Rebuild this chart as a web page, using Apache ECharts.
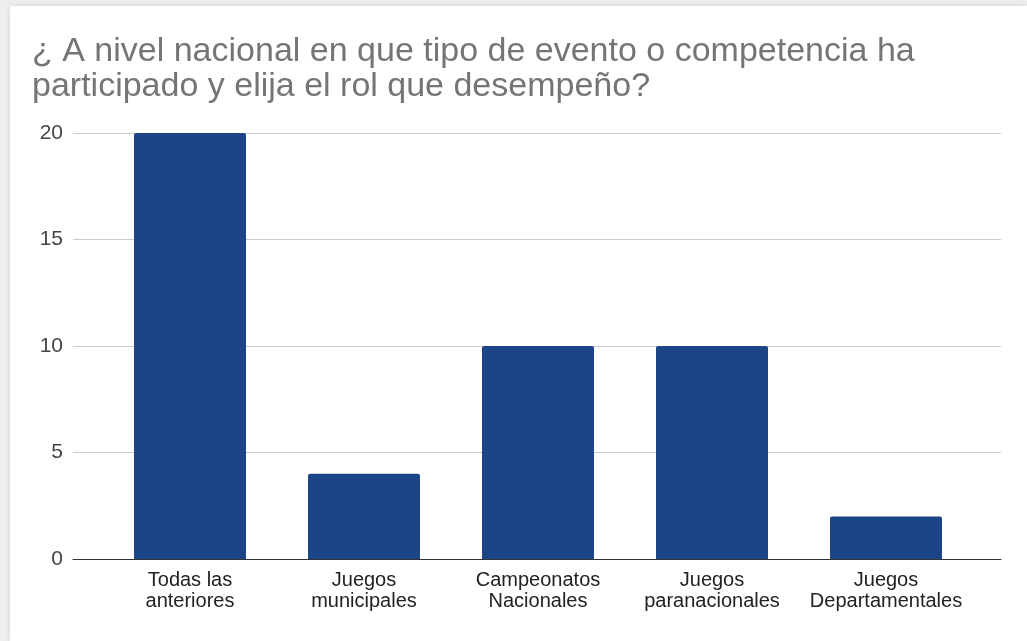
<!DOCTYPE html>
<html>
<head>
<meta charset="utf-8">
<script src="https://cdn.jsdelivr.net/npm/echarts@6/dist/echarts.min.js"></script>
<style>
html,body{margin:0;padding:0;background:#efefef;width:1027px;height:641px;overflow:hidden;}
#card{position:absolute;left:10px;top:6px;width:1017px;height:635px;background:#fff;box-shadow:0 0 6px rgba(0,0,0,0.12);}
#chart{position:absolute;left:0;top:0;width:1027px;height:641px;}
</style>
</head>
<body>
<div id="card"></div>
<div id="chart"></div>
<script>
const titleText = "¿ A nivel nacional en que tipo de evento o competencia ha\nparticipado y elija el rol que desempeño?";
const categories = ["Todas las\nanteriores", "Juegos\nmunicipales", "Campeonatos\nNacionales", "Juegos\nparanacionales", "Juegos\nDepartamentales"];
const values = [20, 4, 10, 10, 2];
const yTicks = [0, 5, 10, 15, 20];

const chart = echarts.init(document.getElementById('chart'), null, {renderer: 'canvas'});
const font = "'Liberation Sans', Arial, sans-serif";
chart.setOption({
  backgroundColor: 'transparent',
  animation: false,
  title: {
    text: titleText,
    left: 27, top: 29,
    textStyle: {fontFamily: font, fontSize: 34, lineHeight: 35, fontWeight: 'normal', color: '#757575'}
  },
  grid: [
    {left: 73, right: 26, top: 133, bottom: 82},
    {left: 103, right: 54, top: 133, bottom: 82}
  ],
  xAxis: [
    {gridIndex: 0, type: 'value', min: 0, max: 1, show: true,
     axisLine: {show: true, lineStyle: {color: '#333', width: 1}},
     axisTick: {show: false}, axisLabel: {show: false}, splitLine: {show: false}},
    {gridIndex: 1, type: 'category', data: categories,
     axisLine: {show: false}, axisTick: {show: false},
     axisLabel: {margin: 11, fontFamily: font, fontSize: 20, lineHeight: 21, color: '#222', interval: 0}}
  ],
  yAxis: [
    {gridIndex: 0, type: 'value', min: yTicks[0], max: yTicks[yTicks.length-1], interval: 5,
     axisLine: {show: false}, axisTick: {show: false},
     axisLabel: {margin: 10, fontFamily: font, fontSize: 21, color: '#444'},
     splitLine: {lineStyle: {color: '#cccccc', width: 1}}},
    {gridIndex: 1, type: 'value', min: yTicks[0], max: yTicks[yTicks.length-1], interval: 5, show: false}
  ],
  series: [{
    type: 'bar', xAxisIndex: 1, yAxisIndex: 1,
    data: values, barWidth: 112,
    itemStyle: {color: '#1c4587', borderRadius: [2,2,0,0]}
  }]
});
</script>
</body>
</html>
